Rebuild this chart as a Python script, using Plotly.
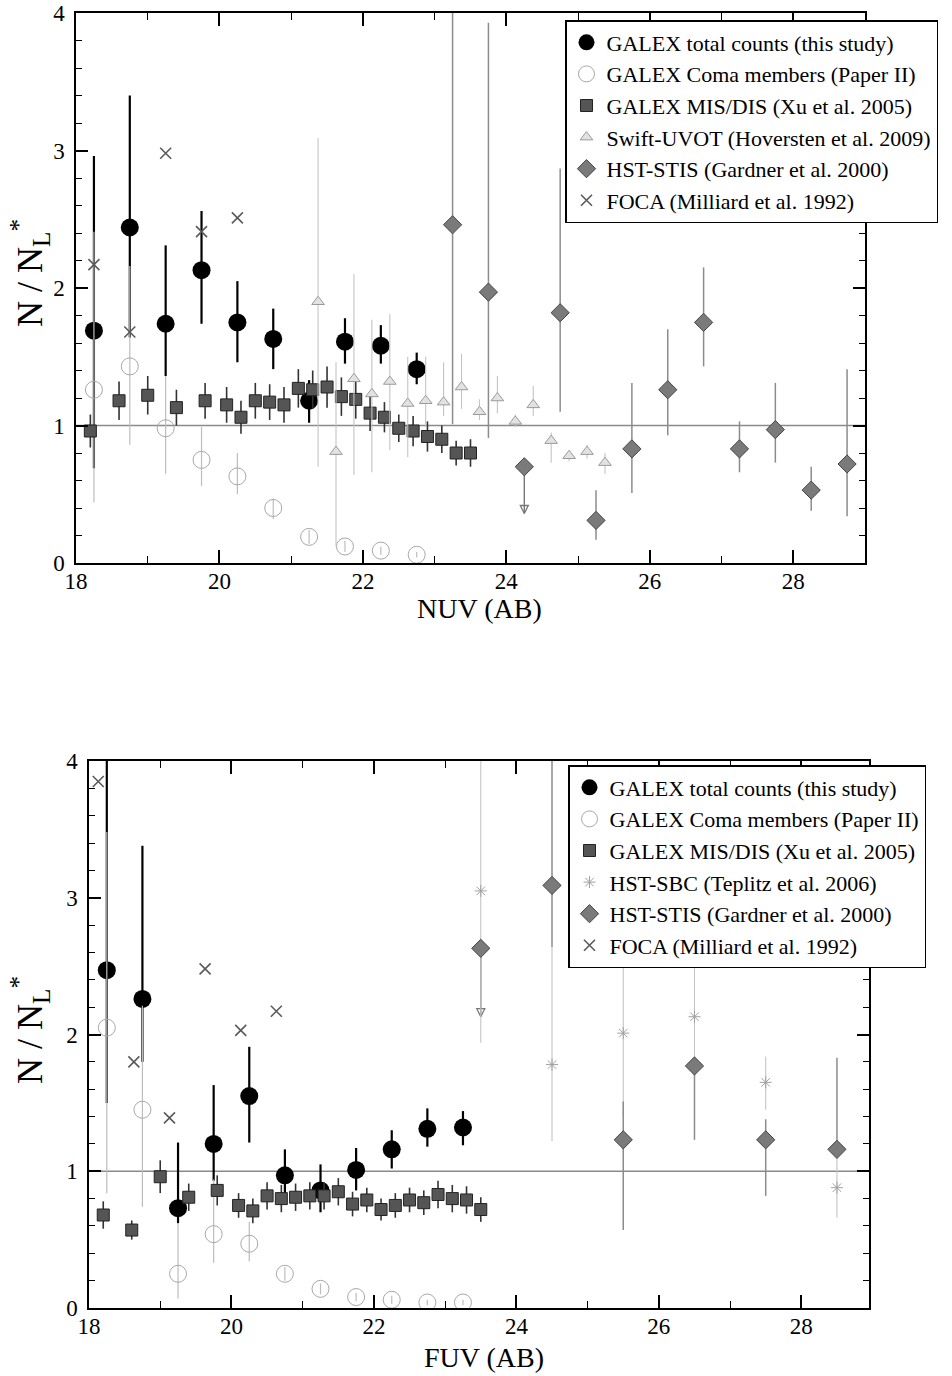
import plotly.graph_objects as go

# ---------------- NUV panel data ----------------
nuv_tot_mag = [18.25, 18.75, 19.25, 19.75, 20.25, 20.75, 21.25, 21.75, 22.25, 22.75]
nuv_tot = [1.69, 2.44, 1.74, 2.13, 1.75, 1.63, 1.18, 1.61, 1.58, 1.41]
nuv_tot_ep = [1.27, 0.96, 0.57, 0.43, 0.30, 0.22, 0.15, 0.17, 0.15, 0.12]
nuv_tot_em = [1.00, 0.80, 0.38, 0.39, 0.29, 0.22, 0.16, 0.16, 0.13, 0.11]

nuv_coma = [1.26, 1.43, 0.98, 0.75, 0.63, 0.40, 0.19, 0.12, 0.09, 0.06]
nuv_coma_ep = [1.15, 0.73, 0.38, 0.24, 0.17, 0.07, 0.05, 0.04, 0.03, 0.02]
nuv_coma_em = [0.82, 0.57, 0.33, 0.19, 0.13, 0.08, 0.05, 0.04, 0.03, 0.02]

mis_mag = [18.2, 18.6, 19.0, 19.4, 19.8, 20.1, 20.3, 20.5, 20.7, 20.9, 21.1, 21.3,
           21.5, 21.7, 21.9, 22.1, 22.3, 22.5, 22.7, 22.9, 23.1, 23.3, 23.5]
nuv_mis = [0.96, 1.18, 1.22, 1.13, 1.18, 1.15, 1.06, 1.18, 1.17, 1.15, 1.27, 1.26,
           1.28, 1.21, 1.19, 1.09, 1.06, 0.98, 0.96, 0.92, 0.90, 0.80, 0.80]
nuv_mis_err = [0.12, 0.14, 0.14, 0.13, 0.13, 0.13, 0.12, 0.13, 0.13, 0.13, 0.14, 0.14,
               0.15, 0.14, 0.14, 0.13, 0.11, 0.10, 0.11, 0.11, 0.10, 0.09, 0.10]

swift_mag = [21.375, 21.625, 21.875, 22.125, 22.375, 22.625, 22.875, 23.125, 23.375,
             23.625, 23.875, 24.125, 24.375, 24.625, 24.875, 25.125, 25.375]
swift = [1.90, 0.81, 1.34, 1.23, 1.32, 1.16, 1.18, 1.17, 1.28, 1.10, 1.20, 1.03, 1.15,
         0.89, 0.78, 0.81, 0.73]
swift_ep = [1.19, 0.65, 0.76, 0.54, 0.49, 0.34, 0.32, 0.29, 0.24, 0.09, 0.16, 0.05, 0.14,
            0.06, 0.02, 0.05, 0.07]
swift_em = [1.20, 0.69, 0.70, 0.57, 0.50, 0.39, 0.19, 0.10, 0.16, 0.06, 0.11, 0.04, 0.08,
            0.16, 0.04, 0.05, 0.08]

stis_nuv_mag = [23.25, 23.75, 24.25, 24.75, 25.25, 25.75, 26.25, 26.75, 27.25, 27.75, 28.25, 28.75]
stis_nuv = [2.46, 1.97, 0.70, 1.82, 0.31, 0.83, 1.26, 1.75, 0.83, 0.97, 0.53, 0.72]
stis_nuv_ep = [1.70, 1.96, 0.0, 1.05, 0.22, 0.48, 0.44, 0.40, 0.20, 0.34, 0.17, 0.69]
stis_nuv_em = [1.45, 1.06, 0.0, 0.72, 0.14, 0.32, 0.33, 0.32, 0.17, 0.24, 0.15, 0.38]
stis_nuv_limit_mag = [24.25]
stis_nuv_limit_val = [0.70]
stis_nuv_limit_tip = [0.36]

foca_nuv_mag = [18.25, 18.75, 19.25, 19.75, 20.25]
foca_nuv = [2.17, 1.68, 2.98, 2.41, 2.51]

# ---------------- FUV panel data ----------------
fuv_tot_mag = [18.25, 18.75, 19.25, 19.75, 20.25, 20.75, 21.25, 21.75, 22.25, 22.75, 23.25]
fuv_tot = [2.47, 2.26, 0.73, 1.20, 1.55, 0.97, 0.86, 1.01, 1.16, 1.31, 1.32]
fuv_tot_ep = [1.80, 1.12, 0.48, 0.43, 0.36, 0.19, 0.19, 0.16, 0.14, 0.15, 0.12]
fuv_tot_em = [0.97, 0.46, 0.11, 0.27, 0.34, 0.18, 0.16, 0.15, 0.14, 0.13, 0.13]

fuv_coma = [2.05, 1.45, 0.25, 0.54, 0.47, 0.25, 0.14, 0.08, 0.06, 0.04, 0.04]
fuv_coma_ep = [1.43, 0.76, 0.37, 0.40, 0.16, 0.05, 0.04, 0.03, 0.03, 0.02, 0.02]
fuv_coma_em = [1.21, 0.71, 0.18, 0.21, 0.13, 0.05, 0.04, 0.03, 0.03, 0.02, 0.02]

fuv_mis = [0.68, 0.57, 0.96, 0.81, 0.86, 0.75, 0.71, 0.82, 0.80, 0.81, 0.82, 0.82,
           0.85, 0.76, 0.79, 0.72, 0.75, 0.79, 0.77, 0.83, 0.80, 0.79, 0.72]
fuv_mis_err = [0.10, 0.07, 0.12, 0.10, 0.11, 0.09, 0.09, 0.10, 0.10, 0.10, 0.10, 0.10,
               0.10, 0.09, 0.09, 0.08, 0.09, 0.09, 0.09, 0.10, 0.10, 0.10, 0.09]

sbc_mag = [23.5, 24.5, 25.5, 26.5, 27.5, 28.5]
sbc = [3.05, 1.78, 2.01, 2.13, 1.65, 0.88]
sbc_ep = [1.30, 0.86, 0.64, 0.44, 0.19, 0.23]
sbc_em = [1.11, 0.56, 0.61, 0.31, 0.20, 0.22]

stis_fuv_mag = [23.5, 24.5, 25.5, 26.5, 27.5, 28.5]
stis_fuv = [2.63, 3.09, 1.23, 1.77, 1.23, 1.16]
stis_fuv_ep = [0.0, 1.20, 0.28, 0.06, 0.15, 0.67]
stis_fuv_em = [0.0, 0.45, 0.66, 0.54, 0.41, 0.05]
stis_fuv_limit_mag = [23.5]
stis_fuv_limit_val = [2.63]
stis_fuv_limit_tip = [2.13]

foca_fuv_mag = [18.13, 18.63, 19.13, 19.63, 20.13, 20.63]
foca_fuv = [3.85, 1.80, 1.39, 2.48, 2.03, 2.17]

FONT = "Liberation Serif"
W, H = 952, 1376


def fx(p):  # page pixel -> paper fraction (x)
    return p / W


def fy(p):  # page pixel -> paper fraction (y)
    return 1 - p / H


fig = go.Figure()


def err(ep, em, color, thick):
    return dict(type="data", symmetric=False, array=ep, arrayminus=em,
                color=color, thickness=thick, width=0)


def add_limits(xa, ya, mags, vals, tips):
    xs, ys = [], []
    for m, v, t in zip(mags, vals, tips):
        xs += [m, m, None]
        ys += [v, t, None]
    fig.add_trace(go.Scatter(x=xs, y=ys, mode="lines", xaxis=xa, yaxis=ya,
                             showlegend=False, hoverinfo="skip",
                             line=dict(color="#777777", width=1.4)))
    fig.add_trace(go.Scatter(x=mags, y=tips, mode="markers", xaxis=xa, yaxis=ya,
                             showlegend=False, hoverinfo="skip",
                             marker=dict(symbol="arrow-down-open", size=8, color="#777777",
                                         line=dict(color="#777777", width=1.3))))


def add_panel(xa, ya, leg, tot_mag, tot, tep, tem, coma, cep, cem, mis, merr,
              faint_name, faint_mag, faint, fep, fem, faint_marker,
              stis_mag, stis, sep, sem, foca_mag, foca):
    fig.add_trace(go.Scatter(
        x=tot_mag, y=tot, mode="markers", name="GALEX total counts (this study)",
        xaxis=xa, yaxis=ya, legend=leg,
        marker=dict(symbol="circle", size=18, color="black"),
        error_y=err(tep, tem, "black", 2.2)))
    fig.add_trace(go.Scatter(
        x=tot_mag, y=coma, mode="markers", name="GALEX Coma members (Paper II)",
        xaxis=xa, yaxis=ya, legend=leg,
        marker=dict(symbol="circle-open", size=17, color="#a8a8a8", line=dict(width=1)),
        error_y=err(cep, cem, "#bdbdbd", 1.2)))
    fig.add_trace(go.Scatter(
        x=mis_mag, y=mis, mode="markers", name="GALEX MIS/DIS (Xu et al. 2005)",
        xaxis=xa, yaxis=ya, legend=leg,
        marker=dict(symbol="square", size=12, color="#555555",
                    line=dict(color="#222222", width=1)),
        error_y=err(merr, merr, "#333333", 1.6)))
    fig.add_trace(go.Scatter(
        x=faint_mag, y=faint, mode="markers", name=faint_name,
        xaxis=xa, yaxis=ya, legend=leg,
        marker=faint_marker,
        error_y=err(fep, fem, "#c4c4c4", 1.1)))
    fig.add_trace(go.Scatter(
        x=stis_mag, y=stis, mode="markers", name="HST-STIS (Gardner et al. 2000)",
        xaxis=xa, yaxis=ya, legend=leg,
        marker=dict(symbol="diamond", size=14, color="#7a7a7a",
                    line=dict(color="#444444", width=1)),
        error_y=err(sep, sem, "#8c8c8c", 1.5)))
    fig.add_trace(go.Scatter(
        x=foca_mag, y=foca, mode="markers", name="FOCA (Milliard et al. 1992)",
        xaxis=xa, yaxis=ya, legend=leg,
        marker=dict(symbol="x-thin-open", size=11, color="#5a5a5a",
                    line=dict(color="#5a5a5a", width=1.6))))


add_limits("x", "y", stis_nuv_limit_mag, stis_nuv_limit_val, stis_nuv_limit_tip)
add_limits("x2", "y2", stis_fuv_limit_mag, stis_fuv_limit_val, stis_fuv_limit_tip)

add_panel("x", "y", "legend", nuv_tot_mag, nuv_tot, nuv_tot_ep, nuv_tot_em,
          nuv_coma, nuv_coma_ep, nuv_coma_em, nuv_mis, nuv_mis_err,
          "Swift-UVOT (Hoversten et al. 2009)", swift_mag, swift, swift_ep, swift_em,
          dict(symbol="triangle-up", size=11, color="#e2e2e2",
               line=dict(color="#9a9a9a", width=1)),
          stis_nuv_mag, stis_nuv, stis_nuv_ep, stis_nuv_em, foca_nuv_mag, foca_nuv)

add_panel("x2", "y2", "legend2", fuv_tot_mag, fuv_tot, fuv_tot_ep, fuv_tot_em,
          fuv_coma, fuv_coma_ep, fuv_coma_em, fuv_mis, fuv_mis_err,
          "HST-SBC (Teplitz et al. 2006)", sbc_mag, sbc, sbc_ep, sbc_em,
          dict(symbol="asterisk-open", size=10, color="#a0a0a0",
               line=dict(color="#a0a0a0", width=1)),
          stis_fuv_mag, stis_fuv, stis_fuv_ep, stis_fuv_em, foca_fuv_mag, foca_fuv)

# N/N_L* = 1 reference lines
for xd, ya in [("x domain", "y"), ("x2 domain", "y2")]:
    fig.add_shape(type="line", xref=xd, yref=ya, x0=0, x1=1, y0=1, y1=1,
                  line=dict(color="#8a8a8a", width=1.5), layer="below")

tickfont = dict(family=FONT, size=23, color="black")
xtitlefont = dict(family=FONT, size=28, color="black")
ytitlefont = dict(family=FONT, size=36, color="black")


def xaxis(dom, rng, anchor):
    return dict(domain=dom, range=rng, dtick=2, tick0=18, ticks="inside", ticklen=13,
                tickwidth=1.5, tickcolor="black", showline=True, linecolor="black",
                linewidth=1.5, mirror="ticks", showgrid=False, zeroline=False,
                tickfont=tickfont, automargin=False, anchor=anchor,
                ticklabelstandoff=-3, ticklabeloverflow="allow",
                minor=dict(dtick=1, ticks="inside", ticklen=7, tickwidth=1.3,
                           tickcolor="black", showgrid=False))


def yaxis(dom, anchor):
    return dict(domain=dom, range=[0, 4], dtick=1, ticks="inside", ticklen=12,
                tickwidth=1.5, tickcolor="black", showline=True, linecolor="black",
                linewidth=1.5, mirror="ticks", showgrid=False, zeroline=False,
                tickfont=tickfont, anchor=anchor, automargin=False,
                ticklabeloverflow="allow", ticklabelstandoff=5,
                minor=dict(dtick=0.2, ticks="inside", ticklen=6, tickwidth=1.3,
                           tickcolor="black", showgrid=False))


legstyle = dict(bgcolor="white", bordercolor="black", borderwidth=1.5,
                font=dict(family=FONT, size=22, color="black"),
                xanchor="left", yanchor="top", itemsizing="trace", traceorder="normal")

# axis titles as paper annotations
ytitle = "N / N<sub>L</sub><sup>*</sup>"
titles = [
    dict(text="NUV (AB)", x=fx(479), y=fy(609), textangle=0, font=xtitlefont),
    dict(text="FUV (AB)", x=fx(484), y=fy(1357), textangle=0, font=xtitlefont),
    dict(text=ytitle, x=fx(30), y=fy(273), textangle=-90, font=ytitlefont),
    dict(text=ytitle, x=fx(30), y=fy(1030), textangle=-90, font=ytitlefont),
]
for t in titles:
    fig.add_annotation(xref="paper", yref="paper", showarrow=False,
                       xanchor="center", yanchor="middle", **t)

fig.update_layout(
    width=W, height=H, margin=dict(l=0, r=0, t=0, b=0),
    paper_bgcolor="white", plot_bgcolor="white",
    xaxis=xaxis([fx(76), fx(865)], [18, 29], "y"),
    yaxis=yaxis([fy(563), fy(13)], "x"),
    xaxis2=xaxis([fx(89), fx(869)], [18, 28.95], "y2"),
    yaxis2=yaxis([fy(1308), fy(761)], "x2"),
    legend=dict(legstyle, x=fx(565), y=fy(20)),
    legend2=dict(legstyle, x=fx(568), y=fy(765)),
    showlegend=True,
)

fig.write_html("out.html",
               config={"displayModeBar": False},
               post_script="document.body.style.margin='0px';"
                           "document.body.style.overflow='hidden';")
